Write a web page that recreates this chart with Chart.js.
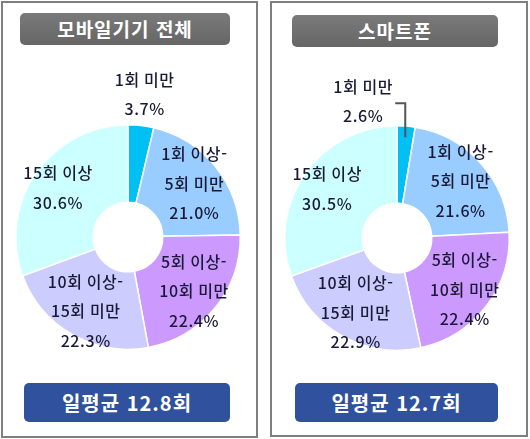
<!DOCTYPE html>
<html lang="ko">
<head>
<meta charset="utf-8">
<script src="https://cdn.jsdelivr.net/npm/chart.js@4"></script>
<style>
  html, body { margin: 0; padding: 0; background: #fff; }
  body { width: 530px; height: 439px; position: relative; overflow: hidden;
         font-family: "Noto Sans CJK KR", "Noto Sans", sans-serif; }
  .panel { position: absolute; box-sizing: border-box; border: 2px solid #7f7f7f; }
  .title, .avg { position: absolute; color: #fff; font-weight: bold; text-align: center;
                 border-radius: 5px; letter-spacing: 1px; }
  .title { background: linear-gradient(#7a7a7a, #666); font-size: 19px; height: 32px; line-height: 32px; }
  .avg { background: #2f519e; font-size: 20px; height: 39px; line-height: 39px; }
  canvas { position: absolute; }
</style>
</head>
<body>
<div class="panel" style="left:1px;top:1px;width:257px;height:437px"></div>
<div class="panel" style="left:270px;top:1px;width:258px;height:436px"></div>

<div class="title" style="left:20px;top:13px;width:210px" id="title-a"></div>
<div class="title" style="left:292px;top:15px;width:206px" id="title-b"></div>

<canvas id="pie-a" width="252" height="330" style="left:3px;top:50px"></canvas>
<canvas id="pie-b" width="252" height="330" style="left:272px;top:50px"></canvas>

<div class="avg" style="left:24px;top:383px;width:206px" id="avg-a"></div>
<div class="avg" style="left:295px;top:383px;width:203px" id="avg-b"></div>

<script>
// data
const categories = [
    ['1회 미만'],
    ['1회 이상-', '5회 미만'],
    ['5회 이상-', '10회 미만'],
    ['10회 이상-', '15회 미만'],
    ['15회 이상']
];
const mobileAll = [3.7, 21.0, 22.4, 22.3, 30.6];
const smartphone = [2.6, 21.6, 22.4, 22.9, 30.5];
const panelTitles = ['모바일기기 전체', '스마트폰'];
const dailyAvg = [12.8, 12.7];

const sliceColors = ['#00bff3', '#99ccff', '#cc99ff', '#ccccff', '#ccffff'];

document.getElementById('title-a').textContent = panelTitles[0];
document.getElementById('title-b').textContent = panelTitles[1];
document.getElementById('avg-a').textContent = '일평균 ' + dailyAvg[0] + '회';
document.getElementById('avg-b').textContent = '일평균 ' + dailyAvg[1] + '회';

// labels inside the slices, small slices go outside
const sliceLabels = {
    id: 'sliceLabels',
    afterDatasetsDraw(chart, args, opts) {
        const ctx = chart.ctx;
        const meta = chart.getDatasetMeta(0);
        const values = chart.data.datasets[0].data;
        ctx.save();
        ctx.font = opts.font;
        ctx.fillStyle = opts.color;
        ctx.textAlign = 'center';
        ctx.textBaseline = 'middle';
        if ('letterSpacing' in ctx) ctx.letterSpacing = '0.6px';
        meta.data.forEach((arc, i) => {
            const p = arc.getProps(['x', 'y', 'startAngle', 'endAngle', 'outerRadius'], true);
            const mid = (p.startAngle + p.endAngle) / 2;
            const lines = chart.data.labels[i].concat(values[i].toFixed(1) + '%');
            const small = values[i] < 5;
            let cx, cy, lh = opts.lineHeight;
            if (small && opts.leader) {
                const r0 = p.outerRadius * 0.9;
                const lx = p.x + Math.cos(mid) * r0;
                const ly0 = p.y + Math.sin(mid) * r0;
                const ly1 = p.y - p.outerRadius * opts.leader.top;
                ctx.strokeStyle = '#555';
                ctx.lineWidth = 2;
                ctx.beginPath();
                ctx.moveTo(lx, ly0);
                ctx.lineTo(lx, ly1);
                ctx.lineTo(lx - opts.leader.tick, ly1);
                ctx.stroke();
                cx = lx - opts.leader.gap;
                cy = ly1 - 2;
            } else {
                const r = p.outerRadius * (small ? 1.28 : 0.76);
                cx = p.x + Math.cos(mid) * r;
                cy = p.y + Math.sin(mid) * r;
            }
            if (small) lh = opts.lineHeight - 1;
            lines.forEach((t, k) => {
                ctx.fillText(t, cx, cy + (k - (lines.length - 1) / 2) * lh);
            });
        });
        ctx.restore();
    }
};

function makePie(id, values, padding, leader) {
    return new Chart(document.getElementById(id), {
        type: 'doughnut',
        data: {
            labels: categories,
            datasets: [{
                data: values,
                backgroundColor: sliceColors,
                borderColor: '#ffffff',
                borderWidth: 1.5
            }]
        },
        options: {
            responsive: false,
            animation: false,
            cutout: '31%',
            layout: { padding: padding },
            plugins: {
                legend: { display: false },
                tooltip: { enabled: false },
                sliceLabels: {
                    font: '500 16px "Noto Sans CJK KR", sans-serif',
                    color: '#1a1a36',
                    lineHeight: 29.5,
                    leader: leader
                }
            }
        },
        plugins: [sliceLabels]
    });
}

makePie('pie-a', mobileAll, { left: 12, top: 74, right: 14, bottom: 30 }, null);
makePie('pie-b', smartphone, { left: 12, top: 75, right: 14, bottom: 29 }, { top: 1.2, tick: 10, gap: 42 });
</script>
</body>
</html>
